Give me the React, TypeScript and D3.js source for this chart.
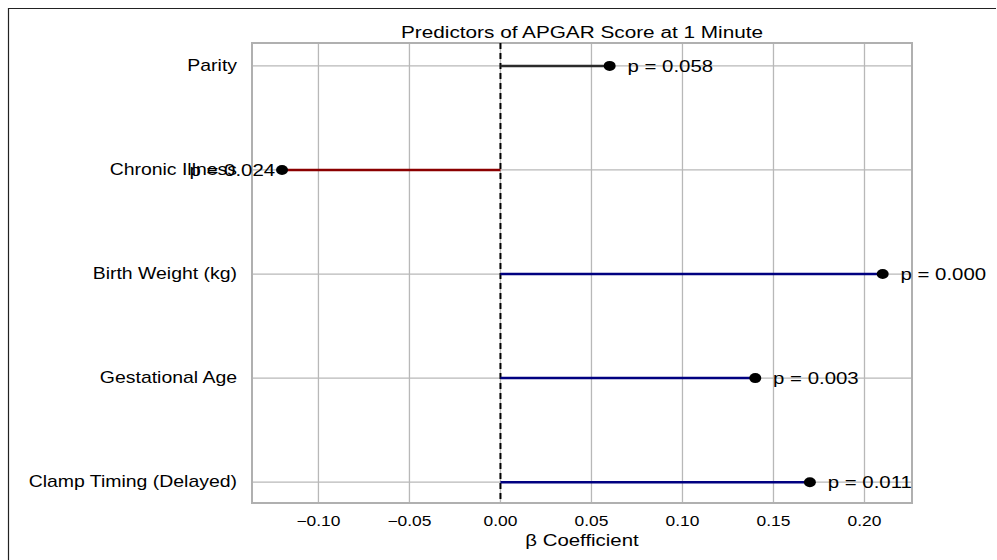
import React from 'react';
import * as d3 from 'd3';

// Data
const predictors = ['Parity', 'Chronic Illness', 'Birth Weight (kg)', 'Gestational Age', 'Clamp Timing (Delayed)'];
const betas = [0.06, -0.12, 0.21, 0.14, 0.17];
const pValues = ['0.058', '0.024', '0.000', '0.003', '0.011'];
const lineColors = ['#2b2b2b', '#8b0000', '#000080', '#000080', '#000080'];
const xTicks = [-0.1, -0.05, 0, 0.05, 0.1, 0.15, 0.2];

const W = 997, H = 560;
const plot = { left: 252, right: 912, top: 43, bottom: 503 };
const SX = 1.2; // text in the reference is stretched horizontally
const FONT = '"Liberation Sans", Arial, Helvetica, sans-serif';

const Txt = ({ x, y, size, anchor = 'start', children, fill = '#000' }: any) => (
  <g transform={`translate(${x},${y}) scale(${SX},1)`}>
    <text x={0} y={0} fontSize={size} textAnchor={anchor} fill={fill} fontFamily={FONT}>
      {children}
    </text>
  </g>
);

const App = () => {
  const x = d3.scaleLinear().domain([-0.1365, 0.2261]).range([plot.left, plot.right]);
  const y = d3.scaleLinear().domain([-0.22, predictors.length - 1 + 0.2]).range([plot.top, plot.bottom]);

  return (
    <div style={{ position: 'absolute', left: 0, top: 0 }}>
      <svg width={W} height={H} style={{ display: 'block', background: '#fff' }}>
        {/* outer frame */}
        <path d={`M8.5,${H} L8.5,8.5 L996,8.5`} fill="none" stroke="#222" strokeWidth={1.2} />

        {/* grid */}
        {xTicks.map((t) => (
          <line key={'gx' + t} x1={x(t)} x2={x(t)} y1={plot.top} y2={plot.bottom} stroke="#b8b8b8" strokeWidth={1.3} />
        ))}
        {predictors.map((p, i) => (
          <line key={'gy' + p} x1={plot.left} x2={plot.right} y1={y(i)} y2={y(i)} stroke="#b8b8b8" strokeWidth={1.3} />
        ))}
        <rect x={plot.left} y={plot.top} width={plot.right - plot.left} height={plot.bottom - plot.top}
          fill="none" stroke="#b0b0b0" strokeWidth={2} />

        {/* zero line */}
        <line x1={x(0)} x2={x(0)} y1={plot.top} y2={plot.bottom} stroke="#000" strokeWidth={2} strokeDasharray="6,4" />

        {/* stems and dots */}
        {predictors.map((p, i) => (
          <g key={'m' + p}>
            <line x1={x(0)} x2={x(betas[i])} y1={y(i)} y2={y(i)} stroke={lineColors[i]} strokeWidth={2.5} />
            <ellipse cx={x(betas[i])} cy={y(i)} rx={6} ry={5} fill="#000" />
          </g>
        ))}

        {/* p-value labels */}
        {predictors.map((p, i) => {
          const pos = betas[i] >= 0;
          return (
            <Txt key={'p' + p} x={pos ? x(betas[i] + 0.0098) : x(betas[i] - 0.0038)} y={y(i) + 6}
              size={17} anchor={pos ? 'start' : 'end'}>
              {`p = ${pValues[i]}`}
            </Txt>
          );
        })}

        {/* category labels */}
        {predictors.map((p, i) => (
          <Txt key={'c' + p} x={237} y={y(i) + 5} size={16.2} anchor="end">{p}</Txt>
        ))}

        {/* x tick labels */}
        {xTicks.map((t) => (
          <Txt key={'t' + t} x={x(t)} y={526} size={14.5} anchor="middle">
            {d3.format('.2f')(t).replace('-', '\u2212')}
          </Txt>
        ))}

        {/* titles */}
        <Txt x={(plot.left + plot.right) / 2} y={38} size={17.3} anchor="middle">Predictors of APGAR Score at 1 Minute</Txt>
        <Txt x={(plot.left + plot.right) / 2} y={546} size={17} anchor="middle">β Coefficient</Txt>
      </svg>
    </div>
  );
};

export default App;
